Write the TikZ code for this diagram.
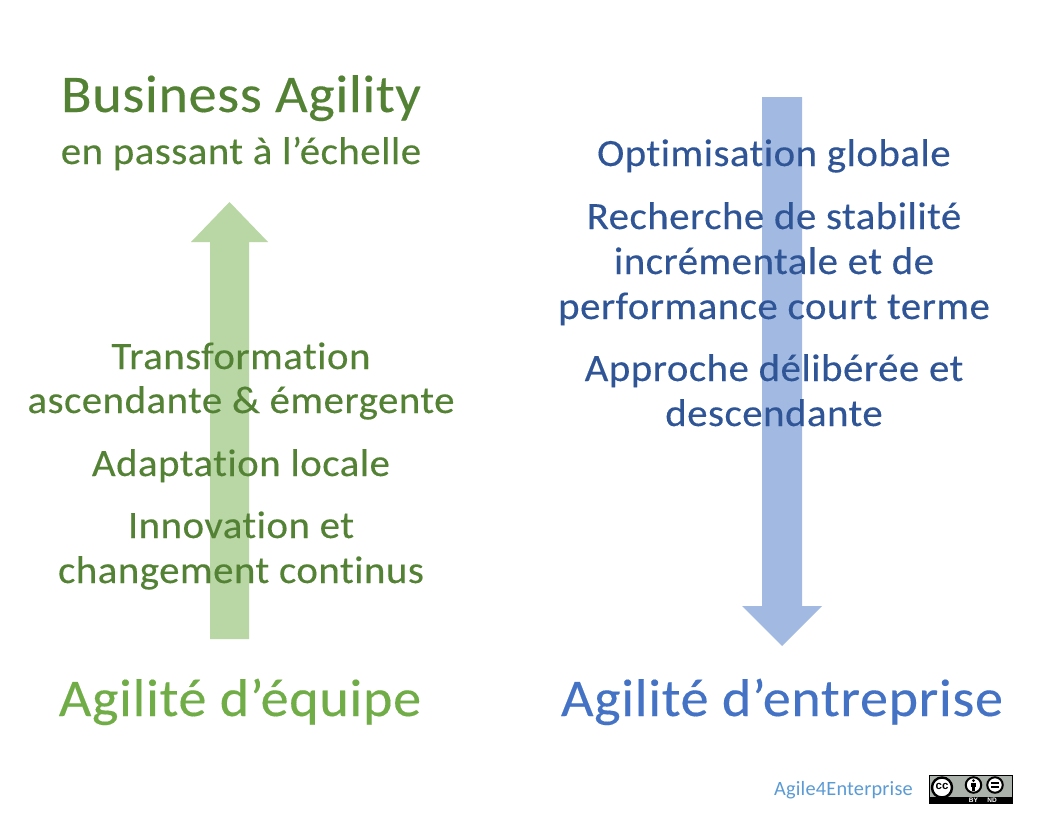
\documentclass[tikz,border=0pt]{standalone}
\usepackage{fontspec}
\setmainfont[Ligatures=NoCommon,FakeStretch=1.06,LetterSpace=1.2,FakeBold=0.25]{Carlito}
\newfontfamily\plainfont[Ligatures=NoCommon,LetterSpace=1.0]{Carlito}
\newfontfamily\badgefont{Liberation Sans}
\definecolor{gd}{HTML}{548235}
\definecolor{gm}{HTML}{70AD47}
\definecolor{gl}{HTML}{B9D7A5}
\definecolor{bd}{HTML}{2F5597}
\definecolor{bm}{HTML}{4472C4}
\definecolor{bl}{HTML}{A2BAE2}
\definecolor{ln}{HTML}{5B9BD5}
\definecolor{ccgrey}{HTML}{AAB2AB}
\tikzset{
 big/.style={inner sep=0pt,anchor=base,font=\fontsize{53}{53}\selectfont},
 mid/.style={inner sep=0pt,anchor=base,font=\fontsize{38.6}{38.6}\selectfont},
 ring/.style={draw=black,line width=2pt,fill=white,circle,inner sep=0pt,minimum size=#1},
 tiny/.style={inner sep=0pt,text=white,font=\badgefont\bfseries\fontsize{6.5}{6.5}\selectfont},
}
\begin{document}
\begin{tikzpicture}[x=1pt,y=-1pt]
\useasboundingbox (0,0) rectangle (1039,819);
\fill[white] (0,0) rectangle (1039,819);
\fill[gl] (210,639) -- (210,242) -- (191,242) -- (229.5,202) -- (268,242) -- (249,242) -- (249,639) -- cycle;
\fill[bl] (762,97) -- (762,606) -- (742,606) -- (782,646) -- (822,606) -- (802,606) -- (802,97) -- cycle;
\node[big,text=gd] (t1) at (241,112) {Business Agility};
\node[mid,text=gd] (t2) at (241,164) {en passant à l’échelle};
\node[mid,text=gd] (a1) at (241,369) {Transformation};
\node[mid,text=gd] (a2) at (241,413) {ascendante \& émergente};
\node[mid,text=gd] (a3) at (241,476) {Adaptation locale};
\node[mid,text=gd] (a4) at (241,538) {Innovation et};
\node[mid,text=gd] (a5) at (241,583) {changement continus};
\node[big,text=gm] (t3) at (240,716) {Agilité d’équipe};
\node[mid,text=bd] (b1) at (774,166) {Optimisation globale};
\node[mid,text=bd] (b2) at (774,229) {Recherche de stabilité};
\node[mid,text=bd] (b3) at (774,274) {incrémentale et de};
\node[mid,text=bd] (b4) at (774,319) {performance court terme};
\node[mid,text=bd] (b5) at (774,381) {Approche délibérée et};
\node[mid,text=bd] (b6) at (774,426) {descendante};
\node[big,text=bm] (t4) at (782,716) {Agilité d’entreprise};
\node[inner sep=0pt,anchor=base,text=ln,font=\plainfont\fontsize{20.3}{20.3}\selectfont] (c) at (843.5,795) {Agile4Enterprise};
% CC BY-ND badge
\fill[black] (929,774.5) rectangle (1013,803.5);
\fill[ccgrey] (930,775.5) rectangle (1012,796.5);
\node[ring=20pt,line width=2.4pt] (cc) at (942,787.5) {};
\node[inner sep=0pt,font=\badgefont\bfseries\fontsize{11.5}{11.5}\selectfont] (cct) at (942,786.5) {cc};
\node[ring=15.5pt] (by) at (973.5,785) {};
\fill[black] (973.5,780.6) circle (1.5);
\fill[black] (971.3,782.8) rectangle (975.7,787.4);
\fill[black] (972.3,787.4) rectangle (974.7,790.6);
\node[ring=15.5pt] (nd) at (995,785) {};
\fill[black] (990.6,782.4) rectangle (999.4,784.2);
\fill[black] (990.6,785.8) rectangle (999.4,787.6);
\node[tiny] (byt) at (973.5,800) {BY};
\node[tiny] (ndt) at (992,800) {ND};
\end{tikzpicture}
\end{document}
